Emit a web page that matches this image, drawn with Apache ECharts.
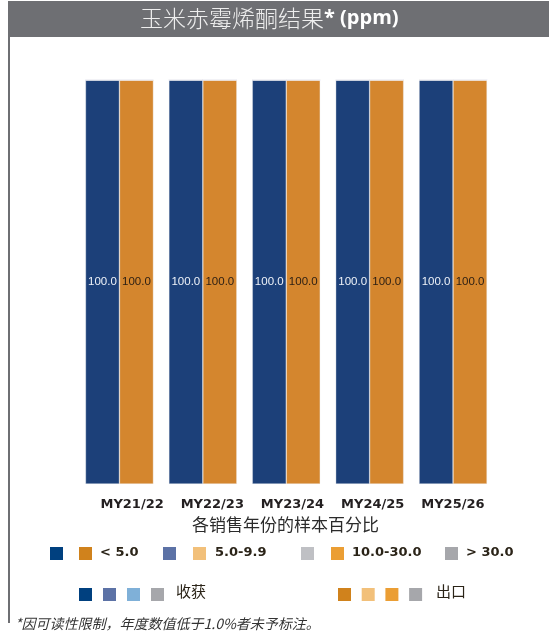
<!DOCTYPE html>
<html>
<head>
<meta charset="utf-8">
<script src="https://cdn.jsdelivr.net/npm/echarts@6/dist/echarts.min.js"></script>
<style>html,body{margin:0;padding:0;background:#fff}#c{width:549px;height:638px}</style>
</head>
<body>
<div id="c"></div>
<script>
// ---- data ----
const years = ['MY21/22', 'MY22/23', 'MY23/24', 'MY24/25', 'MY25/26'];
const bins = ['< 5.0', '5.0-9.9', '10.0-30.0', '> 30.0'];
// harvest (收获) percentages per bin
const harvestLt5   = [100.0, 100.0, 100.0, 100.0, 100.0];
const harvest5to10 = [0, 0, 0, 0, 0];
const harvest10to30= [0, 0, 0, 0, 0];
const harvestGt30  = [0, 0, 0, 0, 0];
// export (出口) percentages per bin
const exportLt5    = [100.0, 100.0, 100.0, 100.0, 100.0];
const export5to10  = [0, 0, 0, 0, 0];
const export10to30 = [0, 0, 0, 0, 0];
const exportGt30   = [0, 0, 0, 0, 0];

const harvestColors = ['#1c4079', '#5c72a6', '#7fb0d8', '#a6a7ab'];
const exportColors  = ['#d4862e', '#f2c07a', '#eb9e34', '#a6a7ab'];

const chart = echarts.init(document.getElementById('c'), null, {renderer: 'canvas'});

function mk(name, stack, data, color, labelColor) {
  return {
    name: name, type: 'bar', stack: stack, data: data,
    barWidth: 34, barGap: '0%',
    xAxisIndex: 0, yAxisIndex: 0,
    itemStyle: {color: color, borderColor: 'rgba(236,236,242,0.6)', borderWidth: 0.6},
    label: {
      show: true, position: 'inside',
      fontFamily: '"Liberation Sans Narrow", "Arial Narrow", "Liberation Sans", sans-serif', fontSize: 11.5,
      color: labelColor, textBorderWidth: 0, textShadowBlur: 0,
      formatter: p => (p.value >= 1.0 ? p.value.toFixed(1) : '')
    },
    silent: true, animation: false
  };
}

const series = [
  mk('收获 ' + bins[0], 'h', harvestLt5, harvestColors[0], '#eef2f8'),
  mk('收获 ' + bins[1], 'h', harvest5to10, harvestColors[1], '#eef2f8'),
  mk('收获 ' + bins[2], 'h', harvest10to30, harvestColors[2], '#222'),
  mk('收获 ' + bins[3], 'h', harvestGt30, harvestColors[3], '#222'),
  mk('出口 ' + bins[0], 'e', exportLt5, exportColors[0], '#2e2014'),
  mk('出口 ' + bins[1], 'e', export5to10, exportColors[1], '#2e2014'),
  mk('出口 ' + bins[2], 'e', export10to30, exportColors[2], '#2e2014'),
  mk('出口 ' + bins[3], 'e', exportGt30, exportColors[3], '#222')
];

// legend built from graphics
const legendFont = 'bold 13px "DejaVu Sans", sans-serif';
const g = [];
// title bar
g.push({type: 'rect', left: 8, top: 1, shape: {width: 541, height: 36}, style: {fill: '#6e6f73'}, silent: true});
g.push({type: 'rect', left: 8, top: 1, shape: {width: 2, height: 622}, style: {fill: '#6e6f73'}, silent: true});
g.push({type: 'text', left: 140, top: 7, style: {
  text: '{a|玉米赤霉烯酮结果}{b|* (ppm)}',
  rich: {
    a: {fontFamily: '"Noto Sans CJK SC", sans-serif', fontSize: 23, fontWeight: 300, fill: '#eeeeee', verticalAlign: 'middle'},
    b: {fontFamily: '"Open Sans", "DejaVu Sans", sans-serif', fontSize: 20, fontWeight: 'bold', fill: '#ffffff', verticalAlign: 'middle'}
  }
}});
// axis name
g.push({type: 'text', left: 192, top: 516, style: {text: '各销售年份的样本百分比', font: '17px "Noto Sans CJK SC", sans-serif', fill: '#2b2b2b'}});
// legend row 1
const sq = (x, y, c) => g.push({type: 'rect', left: x, top: y, shape: {width: 13, height: 13}, style: {fill: c}, silent: true});
const tx = (x, y, t, f) => g.push({type: 'text', left: x, top: y, style: {text: t, font: f || legendFont, fill: '#2b2418'}});
const r1y = 547;
const leg1 = [
  [50, 79, 100, '#00407f', '#d0821c', bins[0]],
  [163, 193, 215, harvestColors[1], exportColors[1], bins[1]],
  [301, 331, 352, '#bfc0c4', exportColors[2], bins[2]],
  [445, null, 466, '#a6a7ab', null, bins[3]]
];
leg1.forEach(([x1, x2, xt, c1, c2, t]) => {
  sq(x1, r1y, c1);
  if (x2 !== null) sq(x2, r1y, c2);
  tx(xt, r1y - 1, t);
});
// legend row 2
const r2y = 588;
['#00407f', harvestColors[1], harvestColors[2], harvestColors[3]].forEach((c, i) => sq(79 + i * 24, r2y, c));
tx(176, r2y - 4, '收获', '15px "Noto Sans CJK SC", sans-serif');
['#d0821c', exportColors[1], exportColors[2], exportColors[3]].forEach((c, i) => sq(338 + i * 23.7, r2y, c));
tx(436, r2y - 4, '出口', '15px "Noto Sans CJK SC", sans-serif');
// footnote
g.push({type: 'text', left: 15, top: 617, style: {text: '*因可读性限制，年度数值低于1.0%者未予标注。', font: 'italic 14px "Noto Sans CJK SC", sans-serif', fill: '#333'}});

chart.setOption({
  animation: false,
  backgroundColor: '#fff',
  grid: [
    {left: 77.75, right: 54.25, top: 80, bottom: 154},
    {left: 92, right: 56, top: 80, bottom: 154}
  ],
  xAxis: [
    {type: 'category', data: years, gridIndex: 0, axisLine: {show: false}, axisTick: {show: false}, axisLabel: {show: false}},
    {type: 'category', data: years, gridIndex: 1, axisLine: {show: false}, axisTick: {show: false},
     axisLabel: {show: true, interval: 0, margin: 14, color: '#231f20', fontFamily: '"DejaVu Sans", sans-serif', fontWeight: 'bold', fontSize: 13}}
  ],
  yAxis: [
    {type: 'value', min: 0, max: 100, gridIndex: 0, show: false, splitLine: {show: false}},
    {type: 'value', min: 0, max: 100, gridIndex: 1, show: false, splitLine: {show: false}}
  ],
  series: series,
  graphic: g
});
</script>
</body>
</html>
